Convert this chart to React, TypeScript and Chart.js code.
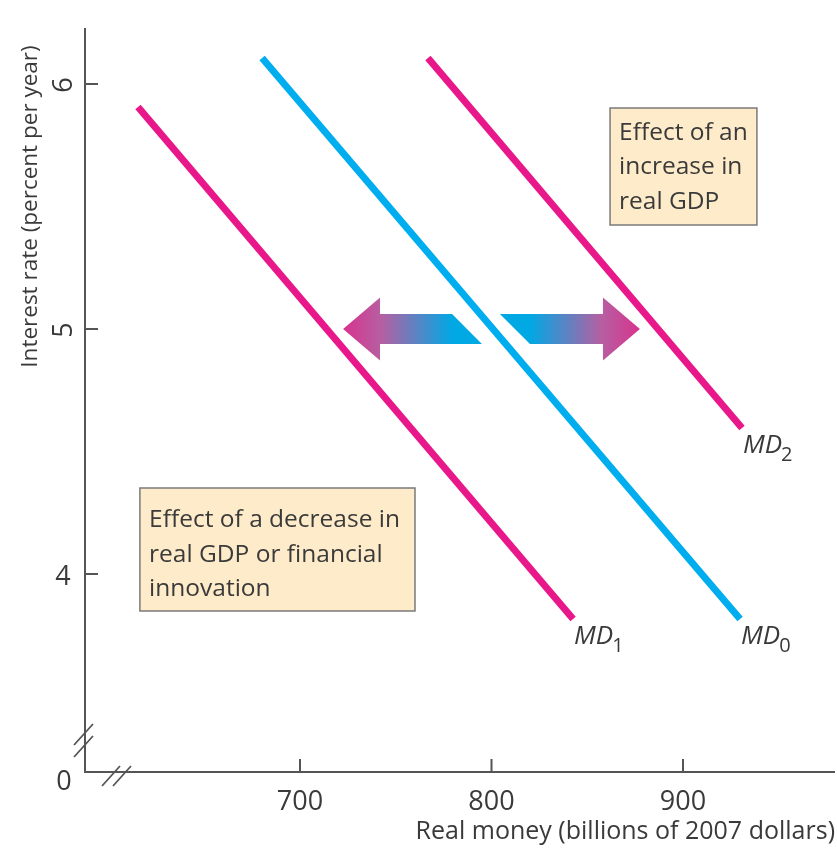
import React, { useEffect, useRef } from "react";
import { Chart, registerables } from "chart.js";

Chart.register(...registerables);

// Curves (real money in billions of 2007 dollars, interest rate in percent per year)
const md1X = [615.4, 842.6];
const md1Y = [5.906, 3.816];
const md0X = [680.2, 929.8];
const md0Y = [6.106, 3.816];
const md2X = [766.8, 930.8];
const md2Y = [6.106, 4.596];

const curveBase = ["MD", "MD", "MD"];
const curveSubs = ["1", "0", "2"];

const xTicks = [700, 800, 900];
const yTicks = [4, 5, 6];
const yTickRotated = [false, true, true];

const xTitle = "Real money (billions of 2007 dollars)";
const yTitle = "Interest rate (percent per year)";
const boxTopLines = ["Effect of an", "increase in", "real GDP"];
const boxBottomLines = ["Effect of a decrease in", "real GDP or financial", "innovation"];

const X_MIN = 587.73;
const X_MAX = 979.37;
const Y_MIN = 3.1918;
const Y_MAX = 6.2286;

const MAGENTA = "#e8188a";
const CYAN = "#00aeef";
const INK = "#3a3a3a";
const AXIS = "#555555";
const FONT = "'Open Sans', sans-serif";

const pts = (xs: number[], ys: number[]) => xs.map((x, i) => ({ x, y: ys[i] }));

const overlay = {
  id: "overlay",
  afterDraw(chart: any) {
    const ctx: CanvasRenderingContext2D = chart.ctx;
    const xs = chart.scales.x;
    const ys = chart.scales.y;
    const px = (v: number) => xs.getPixelForValue(v);
    const py = (v: number) => ys.getPixelForValue(v);
    const { left, right, top, bottom } = chart.chartArea;
    ctx.save();

    // axes
    ctx.strokeStyle = AXIS;
    ctx.lineWidth = 2;
    ctx.beginPath();
    ctx.moveTo(left, top);
    ctx.lineTo(left, bottom);
    ctx.lineTo(right, bottom);
    ctx.stroke();

    // ticks (inward)
    ctx.beginPath();
    yTicks.forEach((t) => {
      ctx.moveTo(left, py(t));
      ctx.lineTo(left + 13, py(t));
    });
    xTicks.forEach((t) => {
      ctx.moveTo(px(t), bottom);
      ctx.lineTo(px(t), bottom - 13);
    });
    ctx.stroke();

    // axis breaks
    ctx.lineWidth = 1.8;
    ctx.beginPath();
    [0, 12].forEach((d) => {
      ctx.moveTo(left - 11, bottom - 27 + d);
      ctx.lineTo(left + 8, bottom - 48 + d);
    });
    [0, 11].forEach((d) => {
      ctx.moveTo(left + 17 + d, bottom + 14);
      ctx.lineTo(left + 35 + d, bottom - 6);
    });
    ctx.stroke();

    // tick labels
    ctx.fillStyle = INK;
    ctx.font = `27px ${FONT}`;
    ctx.textAlign = "center";
    ctx.textBaseline = "middle";
    yTicks.forEach((t, i) => {
      const cx = left - 22;
      const cy = py(t) + 1;
      if (yTickRotated[i]) {
        ctx.save();
        ctx.translate(cx, cy);
        ctx.rotate(-Math.PI / 2);
        ctx.fillText(String(t), 0, 1);
        ctx.restore();
      } else {
        ctx.fillText(String(t), cx, cy + 2);
      }
    });
    xTicks.forEach((t) => ctx.fillText(String(t), px(t), bottom + 30));
    ctx.fillText("0", left - 21, bottom + 10);

    // titles
    ctx.font = `25px ${FONT}`;
    ctx.textAlign = "right";
    ctx.textBaseline = "middle";
    ctx.fillText(xTitle, right, bottom + 60);
    ctx.save();
    ctx.font = `22.5px ${FONT}`;
    ctx.translate(left - 54, py(5.50));
    ctx.rotate(-Math.PI / 2);
    ctx.textAlign = "center";
    ctx.fillText(yTitle, 0, 0);
    ctx.restore();

    // arrows
    const yc = py(5.0);
    const hh = 31.5;
    const sh = 15;
    // left arrow
    const lTip = px(722.5), lBack = px(741.8), lEndTop = px(779.4), lEndBot = px(795.0);
    let g = ctx.createLinearGradient(lTip, 0, lEndTop, 0);
    g.addColorStop(0, "#d8338e");
    g.addColorStop(0.35, "#b65fa2");
    g.addColorStop(1, "#00a8e4");
    ctx.fillStyle = g;
    ctx.beginPath();
    ctx.moveTo(lTip, yc);
    ctx.lineTo(lBack, yc - hh);
    ctx.lineTo(lBack, yc - sh);
    ctx.lineTo(lEndTop, yc - sh);
    ctx.lineTo(lEndBot, yc + sh);
    ctx.lineTo(lBack, yc + sh);
    ctx.lineTo(lBack, yc + hh);
    ctx.closePath();
    ctx.fill();
    // right arrow
    const rTip = px(877.5), rBack = px(858.2), rStartTop = px(804.4), rStartBot = px(820.1);
    g = ctx.createLinearGradient(rStartBot, 0, rTip, 0);
    g.addColorStop(0, "#00a8e4");
    g.addColorStop(0.65, "#b65fa2");
    g.addColorStop(1, "#d8338e");
    ctx.fillStyle = g;
    ctx.beginPath();
    ctx.moveTo(rTip, yc);
    ctx.lineTo(rBack, yc - hh);
    ctx.lineTo(rBack, yc - sh);
    ctx.lineTo(rStartTop, yc - sh);
    ctx.lineTo(rStartBot, yc + sh);
    ctx.lineTo(rBack, yc + sh);
    ctx.lineTo(rBack, yc + hh);
    ctx.closePath();
    ctx.fill();

    // boxes
    const drawBox = (x0: number, y0: number, x1: number, y1: number, lines: string[], tx: number, ty: number) => {
      ctx.fillStyle = "#fdebc9";
      ctx.fillRect(x0, y0, x1 - x0, y1 - y0);
      ctx.strokeStyle = "#7a7a7a";
      ctx.lineWidth = 1.5;
      ctx.strokeRect(x0, y0, x1 - x0, y1 - y0);
      ctx.fillStyle = INK;
      ctx.font = `24.5px ${FONT}`;
      ctx.textAlign = "left";
      ctx.textBaseline = "middle";
      lines.forEach((l, i) => ctx.fillText(l, tx, ty + i * 34.5));
    };
    drawBox(px(861.9), py(5.902), px(938.6), py(5.4245), boxTopLines, px(866.6), py(5.8));
    drawBox(px(616.4), py(4.351), px(760.05), py(3.849), boxBottomLines, px(621.2), py(4.22));

    // curve labels
    const ends: [number, number][] = [
      [md1X[1], md1Y[1]],
      [md0X[1], md0Y[1]],
      [md2X[1], md2Y[1]],
    ];
    ends.forEach(([ex, ey], i) => {
      const lx = px(ex) + 1;
      const ly = py(ey) + 18;
      ctx.fillStyle = INK;
      ctx.textAlign = "left";
      ctx.textBaseline = "middle";
      ctx.font = `italic 26px ${FONT}`;
      ctx.fillText(curveBase[i], lx, ly);
      const w = ctx.measureText(curveBase[i]).width;
      ctx.font = `20px ${FONT}`;
      ctx.fillText(curveSubs[i], lx + w - 1, ly + 9);
    });

    ctx.restore();
  },
};

export default function App() {
  const ref = useRef<HTMLCanvasElement | null>(null);
  useEffect(() => {
    if (!ref.current) return;
    const mk = (xs: number[], ys: number[], color: string, label: string) => ({
      label,
      data: pts(xs, ys),
      showLine: true,
      borderColor: color,
      backgroundColor: color,
      borderWidth: 7,
      borderCapStyle: "butt" as const,
      pointRadius: 0,
      pointHoverRadius: 0,
      fill: false,
    });
    const chart = new Chart(ref.current, {
      type: "scatter",
      data: {
        datasets: [
          mk(md1X, md1Y, MAGENTA, "MD1"),
          mk(md0X, md0Y, CYAN, "MD0"),
          mk(md2X, md2Y, MAGENTA, "MD2"),
        ],
      },
      options: {
        responsive: false,
        animation: false,
        layout: { padding: { left: 85, right: 2, top: 28, bottom: 80 } },
        plugins: { legend: { display: false }, tooltip: { enabled: false } },
        scales: {
          x: { type: "linear", min: X_MIN, max: X_MAX, display: false },
          y: { type: "linear", min: Y_MIN, max: Y_MAX, display: false },
        },
      },
      plugins: [overlay],
    });
    return () => chart.destroy();
  }, []);
  return (
    <div style={{ position: "absolute", left: 0, top: 0, width: 837, height: 852, background: "#fff" }}>
      <canvas ref={ref} width={837} height={852} />
    </div>
  );
}
